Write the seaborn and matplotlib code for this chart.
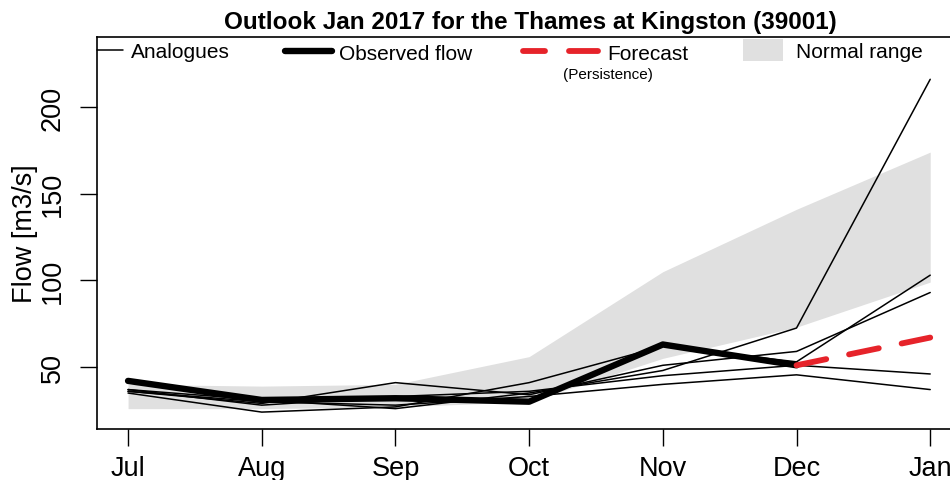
import matplotlib
matplotlib.use("Agg")
import matplotlib.pyplot as plt
import seaborn as sns
import numpy as np
import pandas as pd
from matplotlib.lines import Line2D
from matplotlib.patches import Rectangle

# ---------------- data ----------------
months = ["Jul", "Aug", "Sep", "Oct", "Nov", "Dec", "Jan"]
observed = [42, 31, 32, 30, 63, 51]          # Jul..Dec
forecast_months = ["Dec", "Jan"]
forecast = [51, 67]
normal_lower = [26, 26, 27, 30, 55, 73, 99]
normal_upper = [40, 39, 40, 56, 105, 141, 174]
analogue_1 = [37, 31, 26, 35, 48, 72.5, 216]
analogue_2 = [36, 29, 41, 34, 51, 59, 93]
analogue_3 = [35, 24, 27, 41, 62, 53, 103]
analogue_4 = [37, 28, 33, 36, 45, 51, 46]
analogue_5 = [36, 30, 28, 33, 40, 45.5, 37]
y_ticks = [50, 100, 150, 200]

title = "Outlook Jan 2017 for the Thames at Kingston (39001)"

# ---------------- setup ----------------
sns.set_theme(style="white")
plt.rcParams["font.family"] = ["Liberation Sans", "DejaVu Sans"]
plt.rcParams["text.color"] = "black"
plt.rcParams["axes.labelcolor"] = "black"
plt.rcParams["xtick.color"] = "black"
plt.rcParams["ytick.color"] = "black"

W, H = 950, 481
fig = plt.figure(figsize=(W / 100, H / 100), dpi=100)

def fx(x):
    return x / W

def fy(y):
    return 1 - y / H

ax_left, ax_right, ax_top, ax_bot = 97.3, 962.3, 38, 430
ax = fig.add_axes([fx(ax_left), fy(ax_bot), (ax_right - ax_left) / W, (ax_bot - ax_top) / H])

xpos = {m: i for i, m in enumerate(months)}
x = np.arange(len(months))

# normal range band
ax.fill_between(x, normal_lower, normal_upper, color="#e0e0e0", linewidth=0, zorder=1)

# analogues
analogues = [analogue_1, analogue_2, analogue_3, analogue_4, analogue_5]
rows = []
for k, a in enumerate(analogues):
    for m, v in zip(months, a):
        rows.append({"x": xpos[m], "flow": v, "member": k})
df_an = pd.DataFrame(rows)
sns.lineplot(data=df_an, x="x", y="flow", units="member", estimator=None,
             color="black", linewidth=1.1, ax=ax, legend=False, zorder=3)

# observed
df_obs = pd.DataFrame({"x": [xpos[m] for m in months[:len(observed)]], "flow": observed})
sns.lineplot(data=df_obs, x="x", y="flow", color="black", linewidth=4.6, ax=ax,
             legend=False, zorder=4, solid_capstyle="round", solid_joinstyle="round")

# forecast
df_fc = pd.DataFrame({"x": [xpos[m] for m in forecast_months], "flow": forecast})
sns.lineplot(data=df_fc, x="x", y="flow", color="#e6232a", linewidth=4.2, ax=ax,
             legend=False, zorder=5, dashes=False)
fl = ax.lines[-1]
fl.set_dashes((5.2, 4.0))
fl.set_dash_capstyle("round")

# axes formatting
ax.set_xlim(-0.23, 6.24)
ax.set_ylim(14.25, 240.4)
ax.set_xticks(x)
ax.set_xticklabels(months, fontsize=19.5)
ax.set_yticks(y_ticks)
ax.set_yticklabels([str(t) for t in y_ticks], fontsize=19.5, rotation=90, va="center")
ax.tick_params(axis="both", direction="out", length=12.5, width=1.0, color="black",
               labelcolor="black", bottom=True, left=True)
ax.tick_params(axis="x", pad=6)
ax.tick_params(axis="y", pad=10)
ax.set_xlabel("")
ax.set_ylabel("Flow [m3/s]", fontsize=19.5, color="black")
ax.yaxis.set_label_coords(-(ax_left - 38) / (ax_right - ax_left), 0.5)
for s in ax.spines.values():
    s.set_color("black")
    s.set_linewidth(1.2)
ax.grid(False)

# title
fig.text(fx(530), fy(22), title, ha="center", va="center", fontsize=17.5,
         fontweight="bold", color="black")

# legend (R-style, drawn in figure pixels)
leg_y = 51
fig.add_artist(Line2D([fx(97), fx(123)], [fy(leg_y), fy(leg_y)], color="black", lw=1.1,
                      transform=fig.transFigure))
fig.text(fx(131), fy(52), "Analogues", ha="left", va="center", fontsize=15, color="black")
fig.add_artist(Line2D([fx(285), fx(332)], [fy(52), fy(52)], color="black", lw=4.6,
                      solid_capstyle="round", transform=fig.transFigure))
fig.text(fx(339), fy(54), "Observed flow", ha="left", va="center", fontsize=15, color="black")
fig.add_artist(Line2D([fx(523), fx(545)], [fy(52), fy(52)], color="#e6232a", lw=4.2,
                      solid_capstyle="round", transform=fig.transFigure))
fig.add_artist(Line2D([fx(569), fx(598)], [fy(52), fy(52)], color="#e6232a", lw=4.2,
                      solid_capstyle="round", transform=fig.transFigure))
fig.text(fx(607), fy(54), "Forecast", ha="left", va="center", fontsize=15, color="black")
fig.text(fx(608), fy(75), "(Persistence)", ha="center", va="center", fontsize=11, color="black")
fig.add_artist(Rectangle((fx(743), fy(62)), (783 - 743) / W, 22 / H, color="#e0e0e0",
                         lw=0, transform=fig.transFigure))
fig.text(fx(796), fy(52), "Normal range", ha="left", va="center", fontsize=15, color="black")

fig.savefig("out.png", dpi=100)
